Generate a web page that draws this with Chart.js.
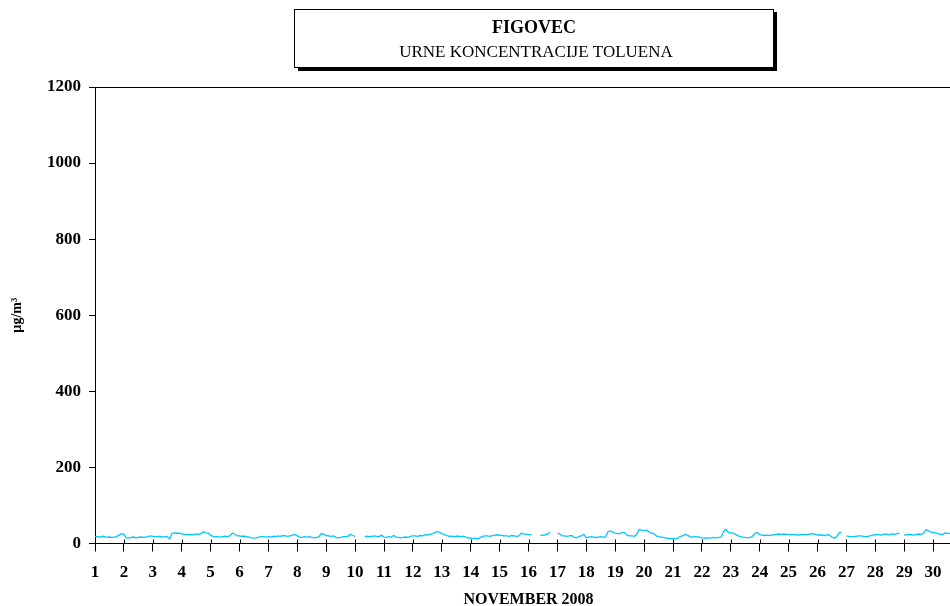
<!DOCTYPE html>
<html>
<head>
<meta charset="utf-8">
<script src="https://cdn.jsdelivr.net/npm/chart.js@4/dist/chart.umd.min.js"></script>
<style>
  html, body { margin: 0; padding: 0; background: #fff; overflow: hidden; }
  canvas { display: block; }
</style>
</head>
<body>
<canvas id="chart" width="965" height="606"></canvas>
<script>
// two-hourly toluene readings, one row per day (00h, 02h ... 22h), null = no data
const toluene = [
  19, 18, 17, 19, 18, 16, 17, 16, 17, 18, 22, 26,
  24, 15, 14, 16, 17, 15, 16, 17, 16, 17, 18, 20,
  19, 18, 18, 19, 17, 18, 18, 12, 27, 28, 27, 27,
  25, 24, 23, 24, 24, 23, 25, 24, 26, 31, 28, 27,
  22, 19, 18, 18, 17, 18, 19, 18, 20, 27, 25, 20,
  20, 19, 19, 18, 17, 15, 14, 15, 17, 18, 18, 17,
  18, 17, 19, 18, 20, 19, 21, 20, 19, 20, 22, 24,
  20, 17, 16, 18, 17, 18, 16, 15, 16, 18, 26, 24,
  21, 20, 19, 20, 16, 15, 16, 18, 18, 19, 24, 21,
  19, null, null, null, 18, 19, 18, 19, 20, 19, 18, 22,
  17, 16, 18, 17, 21, 17, 16, 15, 16, 17, 16, 19,
  20, 20, 19, 21, 20, 23, 22, 24, 25, 29, 31, 30,
  26, 24, 21, 19, 19, 18, 19, 19, 18, 19, 17, 14,
  15, 13, 14, 12, 16, 19, 20, 20, 19, 21, 22, 23,
  22, 21, 20, 20, 19, 21, 20, 19, 20, 27, 25, 24,
  24, 23, null, null, null, 21, 22, 23, 25, 30, null, null,
  27, 25, 20, 20, 19, 20, 21, 16, 15, 19, 20, 24,
  15, 17, 18, 17, 16, 17, 18, 17, 17, 31, 33, 30,
  27, 26, 26, 29, 28, 21, 20, 20, 19, 24, 37, 35,
  34, 35, 31, 27, 26, 20, 18, 17, 16, 15, 13, 13,
  13, 12, 14, 19, 20, 24, 22, 18, 17, 18, 18, 17,
  15, 14, 15, 14, 15, 16, 15, 16, 17, 32, 37, 29,
  28, 27, 24, 20, 19, 17, 16, 15, 16, 19, 27, 29,
  23, 22, 21, 22, 21, 22, 23, 24, 25, 24, 25, 24,
  24, 23, 24, 23, 22, 23, 24, 23, 24, 25, 26, 24,
  22, 23, 22, 21, 23, 22, 17, 14, 18, 28, 30, null,
  20, 19, 18, 18, 19, 20, 20, 19, 18, 19, 21, 22,
  23, 24, 22, 23, 25, 24, 23, 25, 24, 26, 27, null,
  22, 23, 24, 23, 22, 24, 25, 24, 27, 36, 34, 30,
  29, 28, 26, 24, 24, 28, 27, 26, 25, 24, 25, 26
];
const dayLabels = [1, 2, 3, 4, 5, 6, 7, 8, 9, 10, 11, 12, 13, 14, 15,
  16, 17, 18, 19, 20, 21, 22, 23, 24, 25, 26, 27, 28, 29, 30];
const yTicks = [0, 200, 400, 600, 800, 1000, 1200];

const serif = "'Liberation Serif', 'Times New Roman', serif";
const readingsPerDay = 12;
const points = toluene.map((v, i) => ({ x: dayLabels[0] + i / readingsPerDay, y: v }));

const titleBox = {
  id: "titleBox",
  afterDraw(chart) {
    const ctx = chart.ctx;
    ctx.save();
    ctx.fillStyle = "#000";
    ctx.fillRect(298, 12, 479, 59);
    ctx.fillStyle = "#fff";
    ctx.fillRect(295, 9, 479, 59);
    ctx.strokeStyle = "#000";
    ctx.lineWidth = 1;
    ctx.strokeRect(294.5, 9.5, 479, 58);
    ctx.fillStyle = "#000";
    ctx.textAlign = "center";
    ctx.textBaseline = "middle";
    ctx.font = "bold 18px " + serif;
    ctx.fillText("FIGOVEC", 534, 28);
    ctx.font = "17px " + serif;
    ctx.fillText("URNE KONCENTRACIJE TOLUENA", 536, 53);
    // x ticks also reach a little above the axis
    const xs = chart.scales.x;
    ctx.beginPath();
    xs.ticks.forEach((t) => {
      const px = Math.round(xs.getPixelForValue(t.value)) + 0.5;
      ctx.moveTo(px, xs.top - 4);
      ctx.lineTo(px, xs.top);
    });
    ctx.stroke();
    ctx.restore();
  },
};

new Chart(document.getElementById("chart"), {
  type: "line",
  data: {
    datasets: [
      {
        data: points,
        borderColor: "#00c8ff",
        borderWidth: 1.3,
        pointRadius: 0,
        tension: 0,
        spanGaps: false,
      },
    ],
  },
  options: {
    responsive: false,
    animation: false,
    events: [],
    layout: { padding: { top: 87, right: 3, left: 0, bottom: 0 } },
    plugins: {
      legend: { display: false },
      tooltip: { enabled: false },
    },
    scales: {
      x: {
        type: "linear",
        min: 1,
        max: 31,
        afterFit: (s) => { s.height = 62.5; },
        afterBuildTicks: (s) => { s.ticks = dayLabels.map((d) => ({ value: d })); },
        grid: { drawOnChartArea: false, tickLength: 8, tickColor: "#000" },
        border: { color: "#000", width: 1 },
        ticks: {
          color: "#000",
          font: { family: serif, size: 17, weight: "bold" },
          maxRotation: 0,
          autoSkip: false,
          padding: 11,
          callback: (v) => v,
        },
        title: {
          display: true,
          text: "NOVEMBER 2008",
          color: "#000",
          font: { family: serif, size: 16, weight: "bold" },
          padding: { top: 0, bottom: -3 },
        },
      },
      y: {
        min: 0,
        max: 1200,
        afterFit: (s) => { s.width = 95; },
        afterBuildTicks: (s) => { s.ticks = yTicks.map((v) => ({ value: v })); },
        grid: {
          color: (c) => (c.tick && c.tick.value === 1200 ? "#000" : "rgba(0,0,0,0)"),
          tickColor: "#000",
          tickLength: 6,
        },
        border: { color: "#000", width: 1 },
        ticks: {
          color: "#000",
          font: { family: serif, size: 17, weight: "bold" },
          padding: 8,
          callback: (v) => String(v),
        },
        title: {
          display: true,
          text: "µg/m³",
          color: "#000",
          font: { family: serif, size: 14, weight: "bold" },
          padding: { top: 9, bottom: 0 },
        },
      },
    },
  },
  plugins: [titleBox],
});
</script>
</body>
</html>
